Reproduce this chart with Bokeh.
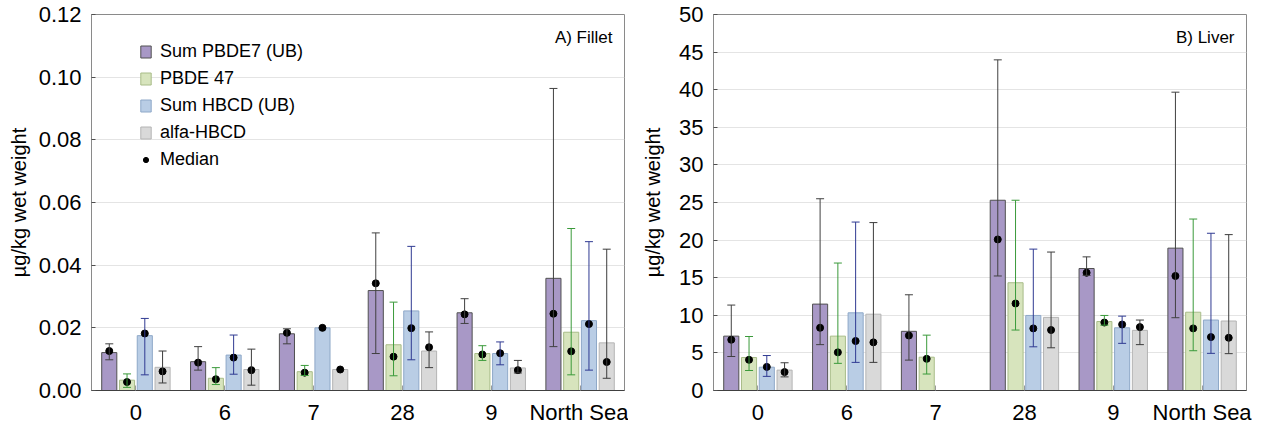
import numpy as np
from bokeh.plotting import figure
from bokeh.models import (ColumnDataSource, FactorRange, Range1d, FixedTicker, NumeralTickFormatter,
                          Whisker, TeeHead, Legend, LegendItem, Label)
from bokeh.transform import dodge
from bokeh.layouts import row
from bokeh.embed import file_html
from bokeh.resources import INLINE

nan = np.nan
categories = ["0", "6", "7", "28", "9", "North Sea"]
series_names = ["Sum PBDE7 (UB)", "PBDE 47", "Sum HBCD (UB)", "alfa-HBCD"]

# ---- A) Fillet ----
fillet_pbde7 = [0.0121, 0.0092, 0.0181, 0.0319, 0.0248, 0.0358]
fillet_pbde7_median = [0.0126, 0.0089, 0.0184, 0.0342, 0.0243, 0.0245]
fillet_pbde7_low = [0.0098, 0.0065, 0.0149, 0.0118, 0.0214, 0.0140]
fillet_pbde7_high = [0.0149, 0.0140, 0.0197, 0.0503, 0.0293, 0.0964]

fillet_pbde47 = [0.0033, 0.0039, 0.0060, 0.0146, 0.0118, 0.0186]
fillet_pbde47_median = [0.0027, 0.0036, 0.0057, 0.0108, 0.0115, 0.0125]
fillet_pbde47_low = [0.0010, 0.0019, 0.0048, 0.0047, 0.0096, 0.0050]
fillet_pbde47_high = [0.0053, 0.0073, 0.0080, 0.0282, 0.0143, 0.0517]

fillet_hbcd = [0.0175, 0.0113, 0.0200, 0.0254, 0.0118, 0.0223]
fillet_hbcd_median = [0.0182, 0.0105, 0.0200, 0.0199, 0.0119, 0.0212]
fillet_hbcd_low = [0.0050, 0.0052, nan, 0.0098, 0.0082, 0.0065]
fillet_hbcd_high = [0.0230, 0.0177, nan, 0.0460, 0.0155, 0.0475]

fillet_alfa = [0.0074, 0.0067, 0.0067, 0.0126, 0.0072, 0.0152]
fillet_alfa_median = [0.0061, 0.0065, 0.0067, 0.0138, 0.0065, 0.0091]
fillet_alfa_low = [0.0024, 0.0017, nan, 0.0073, 0.0056, 0.0039]
fillet_alfa_high = [0.0126, 0.0132, nan, 0.0187, 0.0096, 0.0451]

# ---- B) Liver ----
liver_pbde7 = [7.23, 11.49, 7.87, 25.3, 16.22, 18.93]
liver_pbde7_median = [6.75, 8.34, 7.31, 20.09, 15.66, 15.23]
liver_pbde7_low = [4.52, 6.10, 4.04, 15.23, 15.31, 9.68]
liver_pbde7_high = [11.36, 25.5, 12.73, 43.97, 17.77, 39.67]

liver_pbde47 = [4.39, 7.23, 4.43, 14.33, 9.17, 10.41]
liver_pbde47_median = [4.08, 5.07, 4.21, 11.57, 9.04, 8.26]
liver_pbde47_low = [2.66, 3.61, 2.19, 8.04, 8.69, 5.29]
liver_pbde47_high = [7.18, 16.95, 7.36, 25.3, 9.98, 22.8]

liver_hbcd = [3.10, 10.33, nan, 9.98, 8.34, 9.37]
liver_hbcd_median = [3.14, 6.58, nan, 8.26, 8.78, 7.10]
liver_hbcd_low = [1.88, 3.74, nan, 5.81, 6.27, 4.94]
liver_hbcd_high = [4.65, 22.4, nan, 18.8, 9.89, 20.91]

liver_alfa = [2.71, 10.15, nan, 9.72, 8.00, 9.24]
liver_alfa_median = [2.45, 6.40, nan, 8.04, 8.43, 7.01]
liver_alfa_low = [1.81, 3.74, nan, 5.68, 6.10, 4.90]
liver_alfa_high = [3.69, 22.33, nan, 18.41, 9.37, 20.73]

fillet_ticks = [0, 0.02, 0.04, 0.06, 0.08, 0.10, 0.12]
liver_ticks = [0, 5, 10, 15, 20, 25, 30, 35, 40, 45, 50]

fills = ["#A898C6", "#D7E4BD", "#B9CDE5", "#D9D9D9"]
outlines = ["#505050", "#A8BC88", "#8EA8C8", "#B4B4B4"]
err_colors = ["#404040", "#3A9A3A", "#2F3A92", "#3C3C3C"]
offsets = [-0.3, -0.1, 0.1, 0.3]
FONT = "Liberation Sans"


def make_panel(series, ticks, y_end, fmt, title, width, bl, br, lbl_standoff, show_legend):
    p = figure(x_range=FactorRange(*categories), y_range=Range1d(0, y_end),
               width=width, height=427, min_border_left=bl, min_border_right=br,
               min_border_top=14, min_border_bottom=36,
               output_backend="svg", toolbar_location=None, tools="")
    p.outline_line_color = "#8A8A8A"
    p.outline_line_width = 1
    p.xgrid.grid_line_color = None
    p.ygrid.grid_line_color = "#E4E4E4"
    p.ygrid.grid_line_width = 1
    p.yaxis.ticker = FixedTicker(ticks=ticks)
    if fmt:
        p.yaxis.formatter = NumeralTickFormatter(format=fmt)
    for ax in (p.xaxis, p.yaxis):
        ax.major_label_text_font = FONT
        ax.major_label_text_font_size = "22px"
        ax.major_label_text_color = "black"
        ax.minor_tick_line_color = None
        ax.major_tick_out = 0
    p.xaxis.major_tick_in = 5
    p.xaxis.major_tick_line_color = "#9A9A9A"
    p.xaxis.axis_line_color = "#404040"
    p.xaxis.major_label_standoff = 9
    p.yaxis.major_tick_in = 4
    p.yaxis.major_tick_line_color = "#505050"
    p.yaxis.axis_line_color = "#8A8A8A"
    p.yaxis.major_label_standoff = 10
    p.yaxis.axis_label = "µg/kg wet weight"
    p.yaxis.axis_label_text_font = FONT
    p.yaxis.axis_label_text_font_size = "20px"
    p.yaxis.axis_label_text_font_style = "normal"
    p.yaxis.axis_label_text_color = "black"
    p.yaxis.axis_label_standoff = lbl_standoff

    bar_rs = []
    med_rs = []
    for i, (vals, med, low, high) in enumerate(series):
        src = ColumnDataSource(dict(cat=categories, top=np.array(vals, dtype=float)))
        r = p.vbar(x=dodge("cat", offsets[i], range=p.x_range), top="top", width=0.17,
                   source=src, fill_color=fills[i], line_color=outlines[i], line_width=1)
        bar_rs.append(r)
    for i, (vals, med, low, high) in enumerate(series):
        lo = np.array(low, dtype=float)
        hi = np.array(high, dtype=float)
        keep = ~np.isnan(lo)
        wsrc = ColumnDataSource(dict(cat=[c for c, k in zip(categories, keep) if k],
                                     low=lo[keep], high=hi[keep]))
        w = Whisker(base=dodge("cat", offsets[i], range=p.x_range), lower="low", upper="high",
                    source=wsrc, line_color=err_colors[i], line_width=1, level="overlay",
                    upper_head=TeeHead(size=8, line_color=err_colors[i], line_width=1),
                    lower_head=TeeHead(size=8, line_color=err_colors[i], line_width=1))
        p.add_layout(w)
    for i, (vals, med, low, high) in enumerate(series):
        src = ColumnDataSource(dict(cat=categories, med=np.array(med, dtype=float)))
        m = p.scatter(x=dodge("cat", offsets[i], range=p.x_range), y="med", source=src,
                      size=7, marker="circle", fill_color="black", line_color="black",
                      level="overlay")
        med_rs.append(m)

    p.add_layout(Label(x=6, y=y_end, x_offset=-12, y_offset=-13, text=title,
                       text_align="right", text_baseline="top", text_font=FONT,
                       text_font_size="17px", text_color="black"))

    if show_legend:
        items = [LegendItem(label=n, renderers=[r]) for n, r in zip(series_names, bar_rs)]
        items.append(LegendItem(label="Median", renderers=[med_rs[0]]))
        leg = Legend(items=items, location=(48, 220), padding=0, margin=0,
                     glyph_width=13, glyph_height=15, label_standoff=8, spacing=6,
                     label_height=20, label_text_font=FONT, label_text_font_size="18px",
                     label_text_color="black",
                     border_line_alpha=0, background_fill_alpha=0)
        p.add_layout(leg)
    return p


fillet_series = [
    (fillet_pbde7, fillet_pbde7_median, fillet_pbde7_low, fillet_pbde7_high),
    (fillet_pbde47, fillet_pbde47_median, fillet_pbde47_low, fillet_pbde47_high),
    (fillet_hbcd, fillet_hbcd_median, fillet_hbcd_low, fillet_hbcd_high),
    (fillet_alfa, fillet_alfa_median, fillet_alfa_low, fillet_alfa_high),
]
liver_series = [
    (liver_pbde7, liver_pbde7_median, liver_pbde7_low, liver_pbde7_high),
    (liver_pbde47, liver_pbde47_median, liver_pbde47_low, liver_pbde47_high),
    (liver_hbcd, liver_hbcd_median, liver_hbcd_low, liver_hbcd_high),
    (liver_alfa, liver_alfa_median, liver_alfa_low, liver_alfa_high),
]

p1 = make_panel(fillet_series, fillet_ticks, 0.12, "0.00", "A) Fillet", 628, 91, 4, 6, True)
p2 = make_panel(liver_series, liver_ticks, 50, None, "B) Liver", 624, 85, 6, 12, False)

layout = row(p1, p2)
open("out.html", "w").write(file_html(layout, INLINE))
